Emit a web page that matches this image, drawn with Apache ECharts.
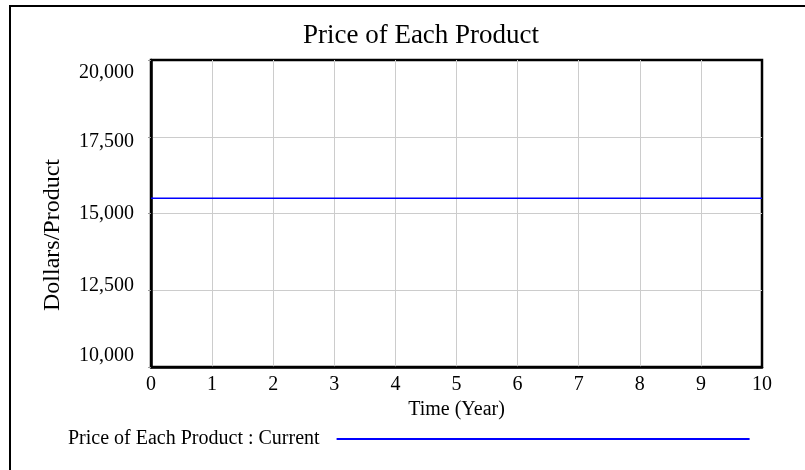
<!DOCTYPE html>
<html>
<head>
<meta charset="utf-8">
<script src="https://cdn.jsdelivr.net/npm/echarts@6/dist/echarts.min.js"></script>
<style>
  html, body {margin: 0; padding: 0; background: #fff;}
  #chart {width: 805px; height: 470px;}
</style>
</head>
<body>
<div id="chart"></div>
<script>
// 数据
var years = [0, 1, 2, 3, 4, 5, 6, 7, 8, 9, 10];
var price = [15500, 15500, 15500, 15500, 15500, 15500, 15500, 15500, 15500, 15500, 15500];
var yTicks = [10000, 12500, 15000, 17500, 20000];
var seriesName = 'Price of Each Product : Current';

var FONT = 'Liberation Serif';

var points = years.map(function (t, i) { return [t, price[i]]; });

// y 轴标签往内收 (和原图一样)
var labelStyle = {20000: 'a', 17500: 'c', 15000: 'n', 12500: 'd', 10000: 'b'};

var option = {
    animation: false,
    backgroundColor: '#fff',
    title: {
        text: 'Price of Each Product',
        left: 416,
        top: 17,
        textAlign: 'center',
        textStyle: {fontFamily: FONT, fontWeight: 'normal', fontSize: 27, color: '#000'}
    },
    legend: {
        data: [{name: seriesName, icon: 'rect'}],
        left: 63,
        top: 424,
        align: 'right',
        itemWidth: 413,
        itemHeight: 2,
        textStyle: {fontFamily: FONT, fontSize: 20, color: '#000', padding: [0, 12, 0, 0]}
    },
    grid: {
        left: 151, right: 43, top: 60, bottom: 103,
        show: true, borderColor: '#000', borderWidth: 2.5
    },
    xAxis: {
        type: 'value',
        min: 0, max: 10, interval: 1,
        name: 'Time (Year)',
        nameLocation: 'middle',
        nameGap: 28,
        nameTextStyle: {fontFamily: FONT, fontSize: 20, color: '#000'},
        axisLine: {show: true, lineStyle: {color: '#000', width: 2.5}},
        axisTick: {show: false},
        axisLabel: {fontFamily: FONT, fontSize: 20, color: '#000', margin: 8},
        splitLine: {show: true, showMinLine: false, showMaxLine: false,
                    lineStyle: {color: '#cccccc', width: 1}}
    },
    yAxis: {
        type: 'value',
        min: yTicks[0], max: yTicks[yTicks.length - 1], interval: 2500,
        axisLine: {show: true, lineStyle: {color: '#000', width: 2.5}},
        axisTick: {show: true, length: 3, lineStyle: {color: '#999'}},
        axisLabel: {
            fontFamily: FONT, fontSize: 20, color: '#000', margin: 17,
            formatter: function (v) {
                var s = v.toLocaleString('en-US');
                return '{' + (labelStyle[v] || 'n') + '|' + s + '}';
            },
            rich: {
                a: {fontFamily: FONT, fontSize: 20, padding: [26, 0, 0, 0]},
                b: {fontFamily: FONT, fontSize: 20, padding: [0, 0, 22, 0]},
                c: {fontFamily: FONT, fontSize: 20, padding: [10, 0, 0, 0]},
                d: {fontFamily: FONT, fontSize: 20, padding: [0, 0, 10, 0]},
                n: {fontFamily: FONT, fontSize: 20}
            }
        },
        splitLine: {show: true, showMinLine: false, showMaxLine: false,
                    lineStyle: {color: '#cccccc', width: 1}}
    },
    graphic: [
        // 外框
        {type: 'line', shape: {x1: 9, y1: 6, x2: 805, y2: 6}, style: {stroke: '#000', lineWidth: 2}},
        {type: 'line', shape: {x1: 10, y1: 6, x2: 10, y2: 470}, style: {stroke: '#000', lineWidth: 2}},
        {
            type: 'text', x: 53, y: 235, rotation: Math.PI / 2,
            style: {text: 'Dollars/Product', font: '24px "Liberation Serif"', fill: '#000',
                    align: 'center', verticalAlign: 'middle'}
        }
    ],
    series: [{
        name: seriesName,
        type: 'line',
        data: points,
        symbol: 'none',
        lineStyle: {color: '#0000ff', width: 1.5},
        itemStyle: {color: '#0000ff'}
    }]
};

var chart = echarts.init(document.getElementById('chart'));
chart.setOption(option);

window.onresize = function () {
    chart.resize();
};
</script>
</body>
</html>
